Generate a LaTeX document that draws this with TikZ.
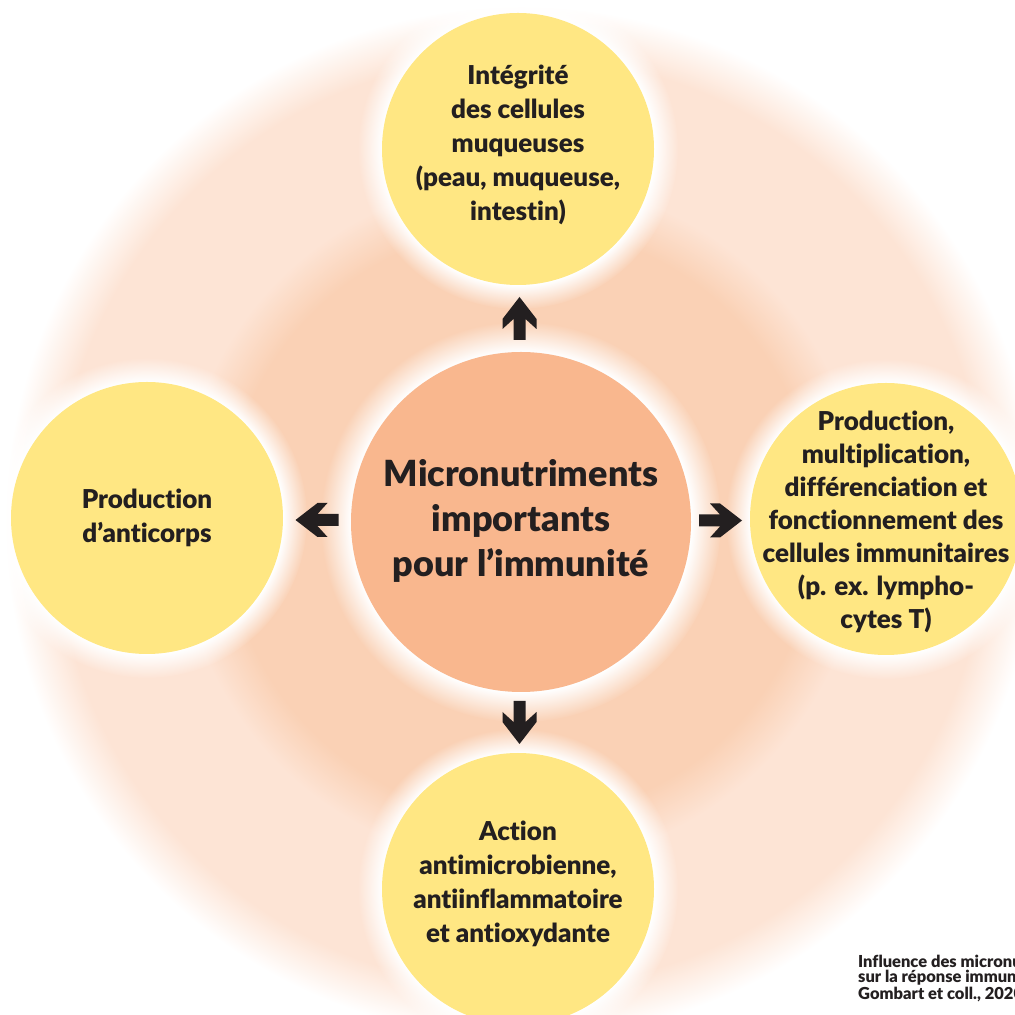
\documentclass[tikz,border=0pt]{standalone}
\usepackage{fontspec}
\setmainfont{Lato}[BoldFont={Lato Black}, Ligatures={NoCommon}]
\usetikzlibrary{calc,fadings}

\definecolor{ink}{HTML}{231F20}
\definecolor{hubfill}{HTML}{F9B78E}
\definecolor{petalfill}{HTML}{FFE783}
\definecolor{glowdeep}{HTML}{FAD1B5}
\definecolor{glowpale}{HTML}{FDE4D5}

% soft peach glow behind the whole figure
% (a shaded path maps 25bp to the circle radius)
\pgfdeclareradialshading{bgglow}{\pgfpointorigin}{%
  color(0bp)=(glowdeep); color(14.2bp)=(glowdeep); color(16.5bp)=(glowpale);
  color(22.4bp)=(glowpale); color(24.8bp)=(white); color(50bp)=(white)}
% white halo fading out around each disc
\pgfdeclareradialshading{halosh}{\pgfpointorigin}{%
  color(0bp)=(white); color(21.2bp)=(white); color(25bp)=(black); color(50bp)=(black)}
\pgfdeclarefading{halofade}{\pgfuseshading{halosh}}

\tikzset{
  hubnode/.style={circle, fill=hubfill, minimum size=340pt, inner sep=0pt},
  petalnode/.style={circle, fill=petalfill, minimum size=272pt, inner sep=0pt},
  hubtext/.style={align=center, inner sep=0pt, text=ink,
    font=\fontsize{36}{45}\selectfont\bfseries},
  petaltext/.style={align=center, inner sep=0pt, text=ink,
    font=\fontsize{26}{34}\selectfont\bfseries},
  halo/.style={white, path fading=halofade},
  blockarrow/.pic={
    \fill[ink] (21.5,0) -- (-0.5,17) -- (-10.5,17) -- (-0.5,6) -- (-21.5,6)
      -- (-21.5,-6) -- (-0.5,-6) -- (-10.5,-17) -- (-0.5,-17) -- cycle;}
}

\begin{document}
\begin{tikzpicture}[x=1pt,y=1pt]
\useasboundingbox (0,0) rectangle (1015,1015);
\clip (0,0) rectangle (1015,1015);
\fill[white] (0,0) rectangle (1015,1015);

\coordinate (pc) at (521,493);
\coordinate (pt) at (518,866);
\coordinate (pl) at (147,497);
\coordinate (pr) at (886,496);
\coordinate (pb) at (518,126);

\shade[shading=bgglow] (pc) circle (520);
\fill[halo] (pc) circle (200);
\foreach \p in {pt,pl,pr,pb} \fill[halo] (\p) circle (160);

% discs
\node[hubnode] (hub) at (pc) {};
\node[petalnode] (top) at (pt) {};
\node[petalnode] (left) at (pl) {};
\node[petalnode] (right) at (pr) {};
\node[petalnode] (bottom) at (pb) {};

% labels
\node[hubtext] (hubl) at ([yshift=1]hub.center) {Micronutriments\\importants\\pour l’immunité};
\node[petaltext] (topl) at ([yshift=4]top.center) {Intégrité\\des cellules\\muqueuses\\(peau, muqueuse,\\intestin)};
\node[petaltext] (leftl) at (left.center) {Production\\d’anticorps};
\node[petaltext, font=\fontsize{26}{33}\selectfont\bfseries] (rightl) at ([yshift=-3]right.center)
  {Production,\\multiplication,\\différenciation et\\fonctionnement des\\cellules immunitaires\\(p. ex. lympho-\\cytes T)};
\node[petaltext] (bottoml) at ([yshift=5]bottom.center) {Action\\antimicrobienne,\\antiinflammatoire\\et antioxydante};

% arrows in the gaps between the hub and each disc
\pic[rotate=90]  at ($(hub.north)!0.5!(top.south)$) {blockarrow};
\pic[rotate=180] at ($(hub.west)!0.5!(left.east)$) {blockarrow};
\pic             at ($(hub.east)!0.5!(right.west)$) {blockarrow};
\pic[rotate=-90] at ($(hub.south)!0.5!(bottom.north)$) {blockarrow};

\node[anchor=base west, align=left, inner sep=0pt, text=ink,
  font=\fontsize{16.5}{15}\selectfont\bfseries] (source) at (858,16)
  {Influence des micronutriments\\sur la réponse immunitaire\\Gombart et coll., 2020};
\end{tikzpicture}
\end{document}
